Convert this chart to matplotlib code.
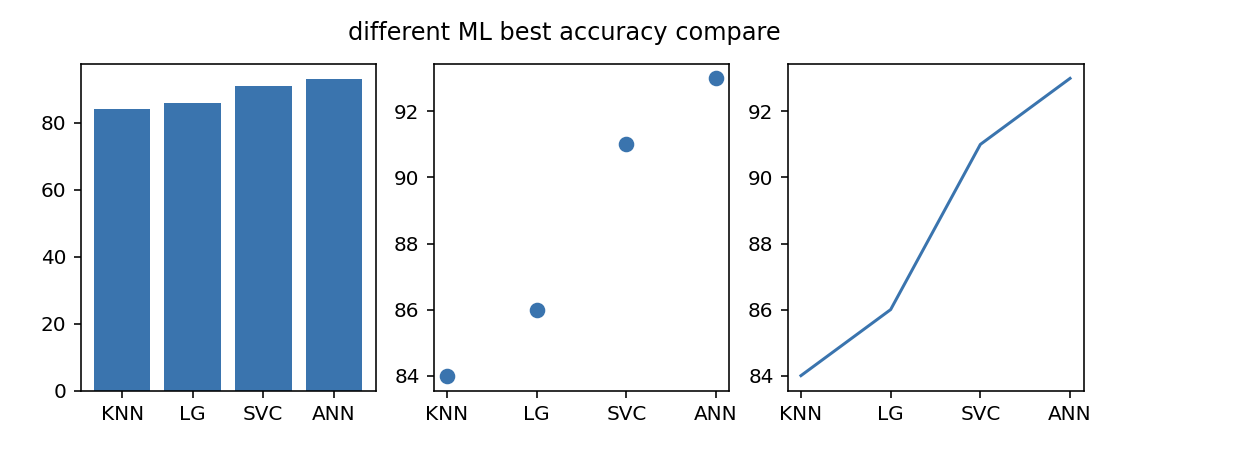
import matplotlib
matplotlib.use("Agg")
import matplotlib.pyplot as plt

names = ["KNN", "LG", "SVC", "ANN"]
values = [84, 86, 91, 93]
color = "#3a74ae"

fig = plt.figure(figsize=(1242/144, 456/144), dpi=144)
W, H = 1242, 456
def pos(x0, x1, ytop, ybot):
    return [x0/W, (H-ybot)/H, (x1-x0)/W, (ybot-ytop)/H]

ax1 = fig.add_axes(pos(80.5, 375.5, 63.5, 390.5))
ax2 = fig.add_axes(pos(433.5, 729.5, 63.5, 390.5))
ax3 = fig.add_axes(pos(787.5, 1083.5, 63.5, 390.5))

ax1.bar(names, values, color=color)
ax2.scatter(names, values, color=color, s=46)
ax3.plot(names, values, color=color)

fig.suptitle("different ML best accuracy compare", x=0.454, y=0.955)
fig.savefig("out.png", dpi=144)
